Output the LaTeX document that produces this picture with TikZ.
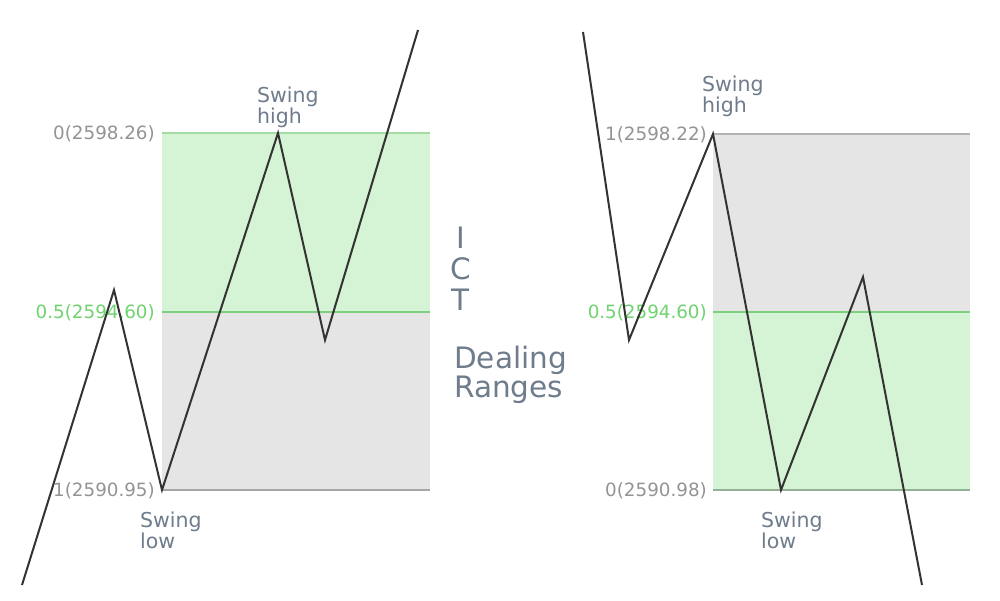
\documentclass[tikz,border=0pt]{standalone}
\usepackage{fontspec}
\setmainfont{DejaVu Sans}
\begin{document}
\begin{tikzpicture}[x=1pt,y=-1pt,
  pricel/.style={line width=2pt,draw=black!80,line join=miter},
  lvl/.style={font=\fontsize{18.3}{18}\selectfont,text=black!42,anchor=east,inner sep=0pt},
  swing/.style={font=\fontsize{20.5}{20.5}\selectfont,text=slateC,align=left,anchor=north west,inner sep=0pt},
  title/.style={font=\fontsize{29.5}{30}\selectfont,text=slateC,anchor=west,inner sep=0pt}]
\definecolor{slateC}{HTML}{6E7C8C}
\definecolor{gfill}{HTML}{D5F3D5}
\definecolor{grfill}{HTML}{E5E5E5}
\definecolor{gline}{HTML}{7DCF7D}
\definecolor{glab}{HTML}{6FD36F}
\useasboundingbox (0,0) rectangle (1000,600);
\fill[white] (0,0) rectangle (1000,600);
% left ranges
\fill[gfill] (162,133) rectangle (430,312);
\fill[grfill] (162,312) rectangle (430,490);
\draw[gline!70!white,line width=1.4pt] (162,133) -- (430,133);
\draw[gline,line width=1.6pt] (162,312) -- (430,312);
\draw[black!35,line width=1.4pt] (162,490) -- (430,490);
% right ranges
\fill[grfill] (713,134) rectangle (970,312);
\fill[gfill] (713,312) rectangle (970,490);
\draw[black!30,line width=1.4pt] (713,134) -- (970,134);
\draw[gline,line width=1.6pt] (713,312) -- (970,312);
\draw[gline!60!black!60,line width=1.4pt] (713,490) -- (970,490);
% level labels
\node[lvl] (l0) at (155,134) {0(2598.26)};
\node[lvl,text=glab] (l5) at (155,313) {0.5(2594.60)};
\node[lvl] (l1) at (155,491) {1(2590.95)};
\node[lvl] (r1) at (707,135) {1(2598.22)};
\node[lvl,text=glab] (r5) at (707,313) {0.5(2594.60)};
\node[lvl] (r0) at (707,491) {0(2590.98)};
% left price path
\coordinate (a0) at (22,585);
\coordinate (a1) at (114,290);
\coordinate (a2) at (162,490);
\coordinate (a3) at (278,133);
\coordinate (a4) at (325,340);
\coordinate (a5) at (418,30);
\draw[pricel] (a0) -- (a1) -- (a2) -- (a3) -- (a4) -- (a5);
% right price path
\coordinate (b0) at (583,32);
\coordinate (b1) at (629,340);
\coordinate (b2) at (713,134);
\coordinate (b3) at (781,490);
\coordinate (b4) at (863,277);
\coordinate (b5) at (922,585);
\draw[pricel] (b0) -- (b1) -- (b2) -- (b3) -- (b4) -- (b5);
% swing labels
\node[swing] (lh) at (257,87) {Swing\\high};
\node[swing] (ll) at (140,512) {Swing\\low};
\node[swing] (rh) at (702,76) {Swing\\high};
\node[swing] (rl) at (761,512) {Swing\\low};
% title
\node[title,anchor=center] (ti) at (461,238) {I};
\node[title,anchor=center] (tc) at (461,269) {C};
\node[title,anchor=center] (tt) at (461,300) {T};
\node[title] (td) at (454,360) {Dealing};
\node[title] (tr) at (454,390) {Ranges};
\end{tikzpicture}
\end{document}
